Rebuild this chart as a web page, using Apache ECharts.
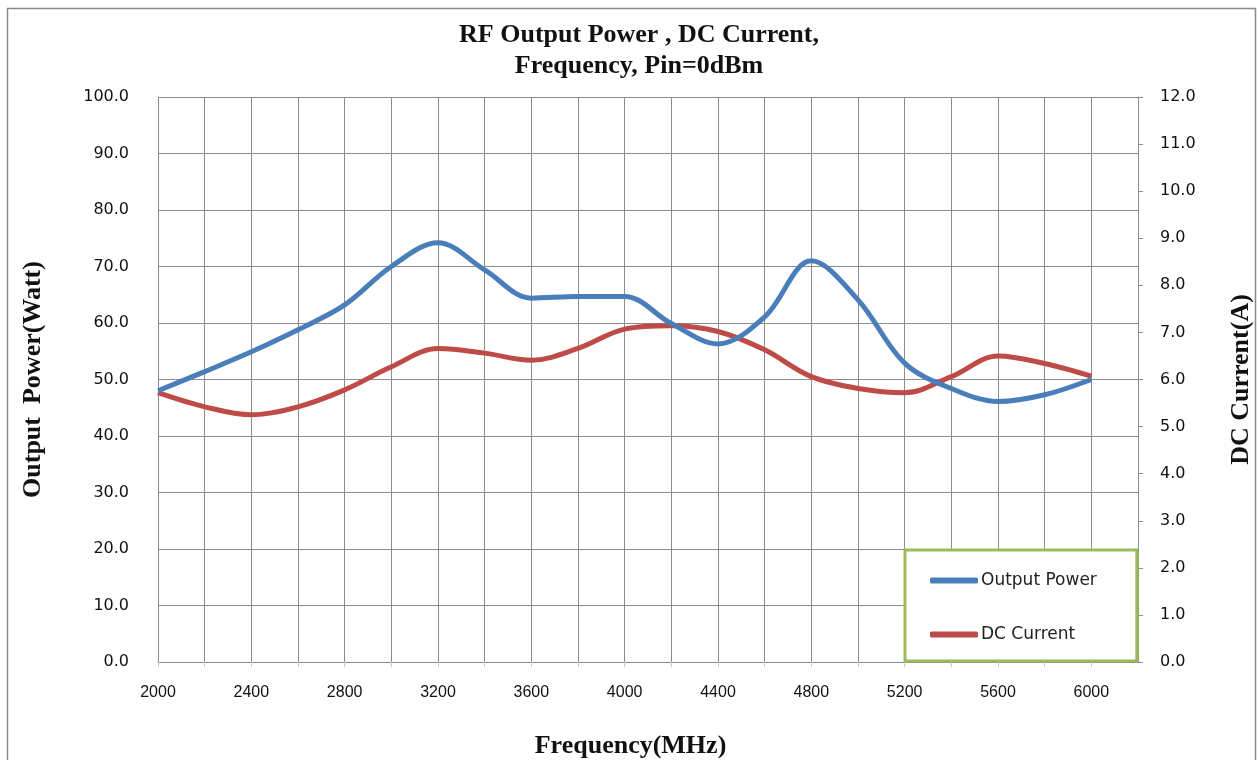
<!DOCTYPE html>
<html>
<head>
<meta charset="utf-8">
<script src="https://cdn.jsdelivr.net/npm/echarts@6/dist/echarts.min.js"></script>
<style>
html,body{margin:0;padding:0;background:#fff;}
#c{width:1258px;height:760px;}
</style>
</head>
<body>
<div id="c"></div>
<script>
const frequencies = [2000,2200,2400,2600,2800,3000,3200,3400,3600,3800,4000,4200,4400,4600,4800,5000,5200,5400,5600,5800,6000];
const outputPower = [48.0,51.4,54.9,58.8,63.2,70.0,74.2,69.4,64.4,64.7,64.7,59.9,56.3,61.1,71.0,64.1,52.9,48.4,46.1,47.3,50.0];
const dcCurrent = [5.72,5.42,5.25,5.42,5.78,6.27,6.66,6.56,6.41,6.66,7.07,7.14,7.02,6.63,6.06,5.81,5.72,6.06,6.50,6.34,6.07];
const leftTicks = {min:0, max:100, interval:10};
const rightTicks = {min:0, max:12, interval:1};
const xTicks = {min:2000, max:6200, interval:200, labelStep:400};

const chart = echarts.init(document.getElementById('c'));
const grid = '#8c8c8c';
const serif = {fontFamily:'Liberation Serif', fontWeight:'bold', fontSize:26, color:'#111'};
chart.setOption({
  animation:false,
  backgroundColor:'#fff',
  graphic:[{type:'rect', shape:{x:7.5,y:8.5,width:1248,height:770}, style:{fill:'none', stroke:'#8a8a8a', lineWidth:1.5}, z:-1}],
  title:{
    text:'RF Output Power , DC Current,\nFrequency, Pin=0dBm',
    left:634, textAlign:'center', top:15,
    textStyle:Object.assign({lineHeight:31}, serif)
  },
  legend:{
    orient:'vertical', left:905, top:550,
    data:['Output Power','DC Current'],
    icon:'roundRect', itemWidth:48, itemHeight:6, itemGap:37,
    padding:[22,40,18,25],
    borderColor:'#9BBB59', borderWidth:3, backgroundColor:'#fff',
    textStyle:{fontFamily:'DejaVu Sans', fontSize:17, color:'#222', padding:[0,0,0,-2]}
  },
  grid:{left:158, right:120, top:97, bottom:98, outerBoundsMode:'none', containLabel:false},
  xAxis:{
    type:'value', min:xTicks.min, max:xTicks.max, interval:xTicks.interval,
    name:'Frequency(MHz)', nameLocation:'middle', nameGap:71,
    nameTextStyle:Object.assign({padding:[0,35,0,0]}, serif),
    axisLine:{show:true, lineStyle:{color:grid}},
    axisTick:{show:true, length:5, lineStyle:{color:'#ccc'}},
    splitLine:{show:true, lineStyle:{color:grid, width:1}},
    axisLabel:{
      margin:23, showMaxLabel:false,
      fontFamily:'Liberation Sans', fontSize:16, color:'#111',
      formatter:v => (v % xTicks.labelStep === 0 && v <= 6000) ? String(v) : ''
    }
  },
  yAxis:[{
    type:'value', min:leftTicks.min, max:leftTicks.max, interval:leftTicks.interval,
    name:'Output  Power(Watt)', nameLocation:'middle', nameGap:112, nameRotate:90,
    nameTextStyle:serif,
    axisLine:{show:true, lineStyle:{color:grid}},
    axisTick:{show:false},
    splitLine:{show:true, lineStyle:{color:grid, width:1}},
    axisLabel:{margin:29, fontFamily:'DejaVu Sans', fontSize:16, color:'#111', formatter:v=>v.toFixed(1)}
  },{
    type:'value', min:rightTicks.min, max:rightTicks.max, interval:rightTicks.interval,
    name:'DC Current(A)', nameLocation:'middle', nameGap:90, nameRotate:90,
    nameTextStyle:serif,
    axisLine:{show:true, lineStyle:{color:grid}},
    axisTick:{show:true, length:5, lineStyle:{color:grid}},
    splitLine:{show:false},
    axisLabel:{margin:22, fontFamily:'DejaVu Sans', fontSize:16, color:'#111', formatter:v=>v.toFixed(1)}
  }],
  series:[{
    name:'Output Power', type:'line', yAxisIndex:0, smooth:0.35, symbol:'none',
    data:frequencies.map((f,i)=>[f, outputPower[i]]),
    lineStyle:{color:'#4A7EBB', width:5}, itemStyle:{color:'#4A7EBB'}, z:3
  },{
    name:'DC Current', type:'line', yAxisIndex:1, smooth:0.35, symbol:'none',
    data:frequencies.map((f,i)=>[f, dcCurrent[i]]),
    lineStyle:{color:'#BE4B48', width:5}, itemStyle:{color:'#BE4B48'}, z:2
  }]
});
</script>
</body>
</html>
